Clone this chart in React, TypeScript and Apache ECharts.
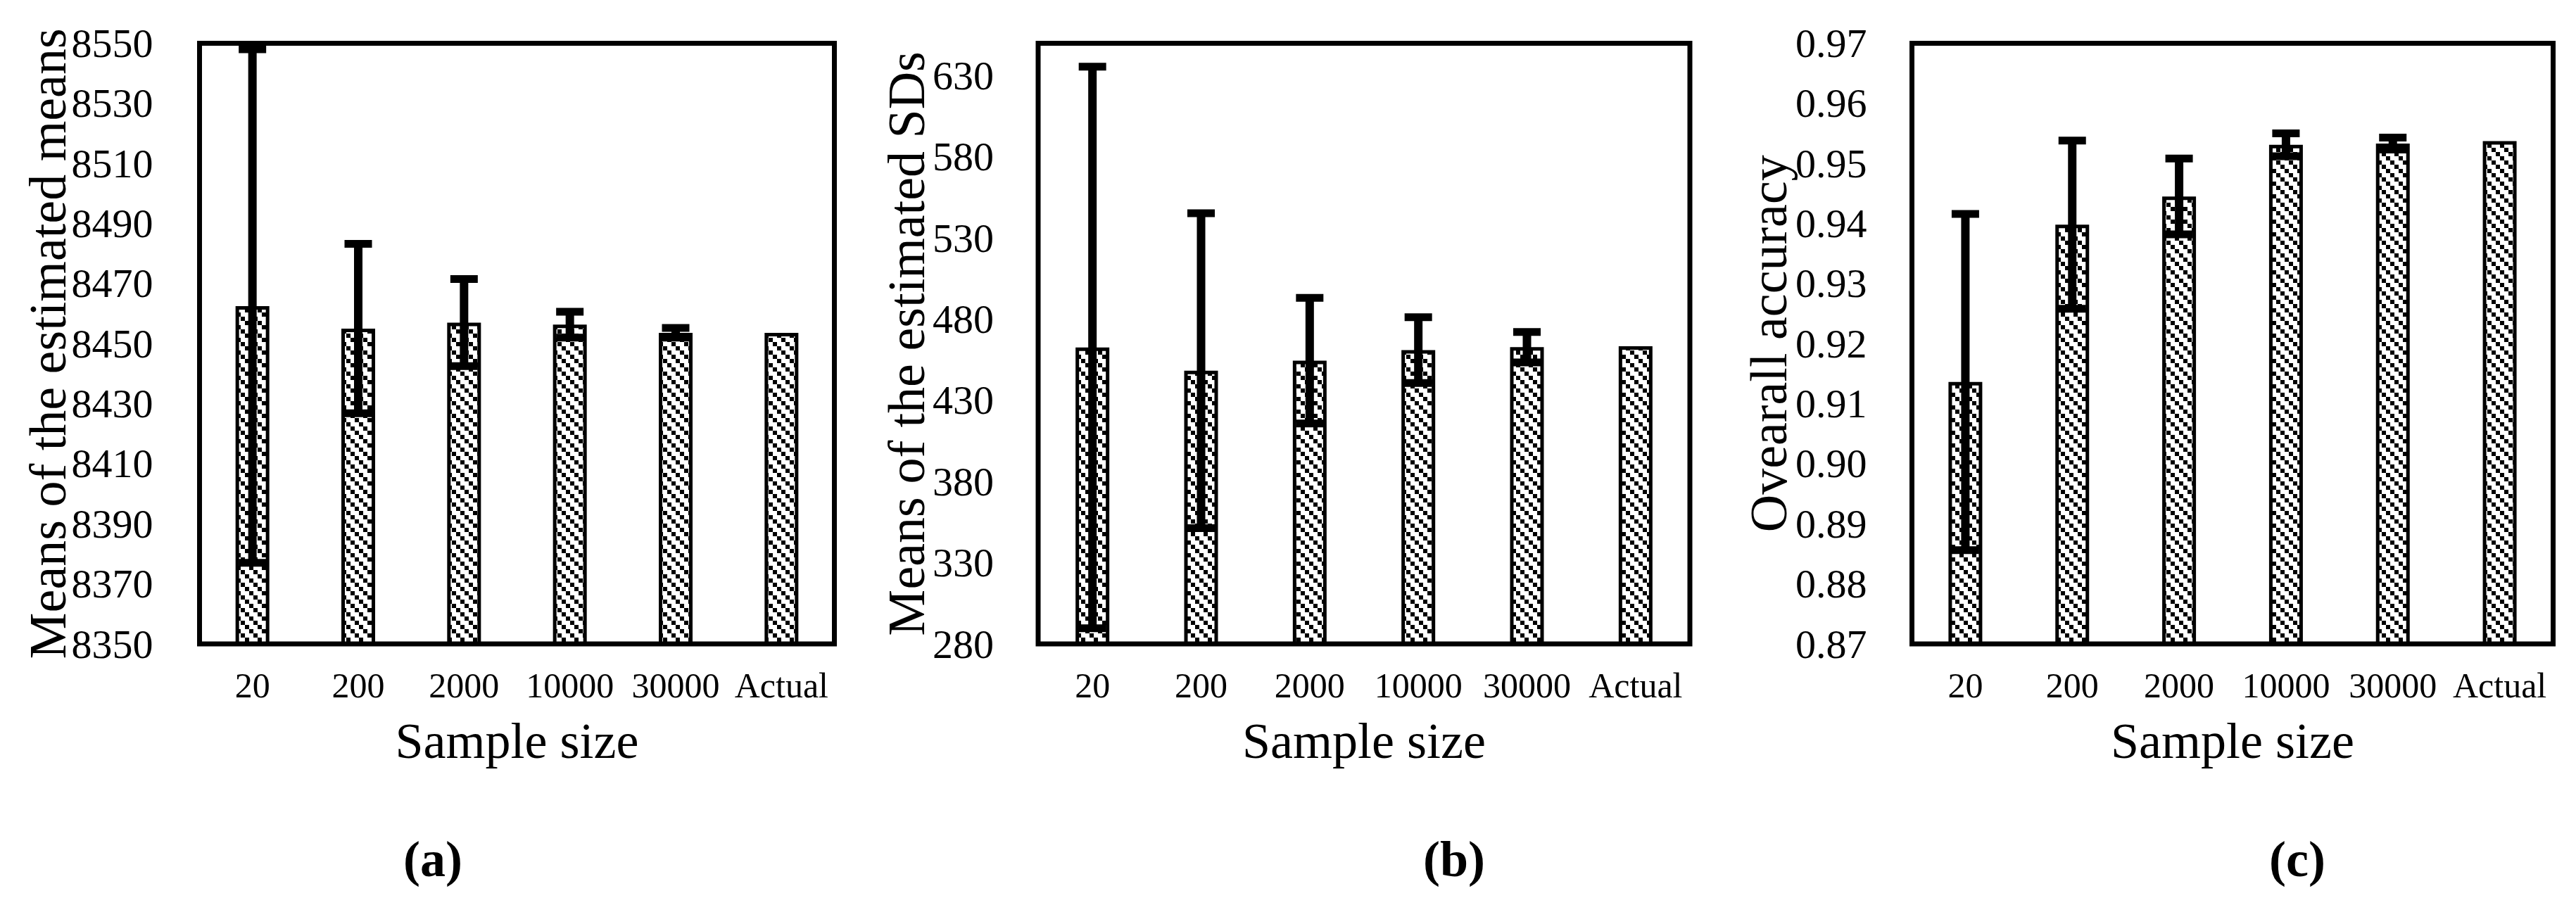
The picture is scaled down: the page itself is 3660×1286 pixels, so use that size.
import React, { useEffect, useRef } from "react";
import * as echarts from "echarts";

const categories = ["20", "200", "2000", "10000", "30000", "Actual"];

// Panel (a): means of the estimated means
const meansA = [8462.5, 8455, 8457, 8456.3, 8453.6, 8453.6];
const errA = [85.5, 28.2, 14.5, 4.3, 1.6, null];
const ticksA = [8350, 8370, 8390, 8410, 8430, 8450, 8470, 8490, 8510, 8530, 8550];

// Panel (b): means of the estimated SDs
const sdsB = [462.6, 448.3, 454.5, 461, 462.8, 463.4];
const errB = [173, 97, 38.7, 20.3, 9.4, null];
const ticksB = [280, 330, 380, 430, 480, 530, 580, 630];

// Panel (c): overall accuracy
const accC = [0.9136, 0.9398, 0.9445, 0.9531, 0.9533, 0.9537];
const errC = [0.028, 0.014, 0.0063, 0.0019, 0.001, null];
const ticksC = [0.87, 0.88, 0.89, 0.9, 0.91, 0.92, 0.93, 0.94, 0.95, 0.96, 0.97];

const FONT = '"Liberation Serif", "Times New Roman", serif';

function makePattern(): HTMLCanvasElement {
  const c = document.createElement("canvas");
  c.width = 18;
  c.height = 18;
  const ctx = c.getContext("2d")!;
  ctx.fillStyle = "#fff";
  ctx.fillRect(0, 0, 18, 18);
  ctx.fillStyle = "#000";
  for (let k = 0; k < 3; k++) ctx.fillRect(k * 6, k * 6, 6, 6);
  return c;
}

export default function App() {
  const ref = useRef<HTMLDivElement>(null);
  useEffect(() => {
    const chart = echarts.init(ref.current!, undefined, { renderer: "svg" });
    const pat = makePattern();
    const patternColor: any = {
      image: pat.toDataURL(),
      repeat: "repeat",
      imageWidth: 18,
      imageHeight: 18,
    };

    const panels = [
      { left: 283.5, width: 902, name: "Means of the estimated means", vals: meansA, errs: errA, ticks: ticksA, min: 8350, max: 8550, fmt: (v: number) => String(v), gap: 179, margin: 66 },
      { left: 1475, width: 926, name: "Means of the estimated SDs", vals: sdsB, errs: errB, ticks: ticksB, min: 280, max: 650, fmt: (v: number) => String(v), gap: 150, margin: 63 },
      { left: 2716.5, width: 911, name: "Ovearall accuracy", vals: accC, errs: errC, ticks: ticksC, min: 0.87, max: 0.97, fmt: (v: number) => v.toFixed(2), gap: 167, margin: 64 },
    ];

    const grid: any[] = [];
    const xAxis: any[] = [];
    const yAxis: any[] = [];
    const series: any[] = [];

    panels.forEach((p, i) => {
      grid.push({
        left: p.left,
        top: 61.5,
        width: p.width,
        height: 853.5,
        show: true,
        borderColor: "#000",
        borderWidth: 7,
        backgroundColor: "transparent",
        z: 5,
      });
      xAxis.push({
        type: "category",
        gridIndex: i,
        data: categories,
        boundaryGap: true,
        axisLine: { show: false },
        axisTick: { show: false },
        axisLabel: { interval: 0, margin: 34, fontSize: 50, fontFamily: FONT, color: "#000" },
        name: "Sample size",
        nameLocation: "middle",
        nameGap: 102,
        nameMoveOverlap: false,
        nameTextStyle: { fontSize: 72, fontFamily: FONT, color: "#000" },
      });
      yAxis.push({
        type: "value",
        gridIndex: i,
        min: p.min,
        max: p.max,
        axisLine: { show: false },
        axisTick: { show: false },
        splitLine: { show: false },
        axisLabel: {
          customValues: p.ticks,
          formatter: p.fmt,
          margin: p.margin,
          fontSize: 58,
          fontFamily: FONT,
          color: "#000",
        },
        name: p.name,
        nameLocation: "middle",
        nameGap: p.gap,
        nameMoveOverlap: false,
        nameTextStyle: { fontSize: 74, fontFamily: FONT, color: "#000" },
      });
      series.push({
        type: "bar",
        xAxisIndex: i,
        yAxisIndex: i,
        data: p.vals,
        barWidth: 48,
        clip: true,
        itemStyle: { color: patternColor, borderColor: "#000", borderWidth: 5 },
        silent: true,
      });
      const errData = p.vals
        .map((v, k) => (p.errs[k] == null ? null : [k, v - (p.errs[k] as number), v + (p.errs[k] as number)]))
        .filter((d) => d !== null);
      series.push({
        type: "custom",
        xAxisIndex: i,
        yAxisIndex: i,
        data: errData,
        encode: { x: 0, y: [1, 2] },
        z: 4,
        silent: true,
        renderItem: (params: any, api: any) => {
          const idx = api.value(0);
          const lo = api.coord([idx, api.value(1)]);
          const hi = api.coord([idx, api.value(2)]);
          const cx = hi[0];
          const stemW = 12;
          const capW = 39;
          const capH = 11;
          return {
            type: "group",
            children: [
              { type: "rect", shape: { x: cx - stemW / 2, y: hi[1], width: stemW, height: lo[1] - hi[1] }, style: { fill: "#000" } },
              { type: "rect", shape: { x: cx - capW / 2, y: hi[1] - capH / 2, width: capW, height: capH }, style: { fill: "#000" } },
              { type: "rect", shape: { x: cx - capW / 2, y: lo[1] - capH / 2, width: capW, height: capH }, style: { fill: "#000" } },
            ],
          };
        },
      });
    });

    const labels = [
      { t: "(a)", x: 615 },
      { t: "(b)", x: 2066 },
      { t: "(c)", x: 3264 },
    ];

    chart.setOption({
      animation: false,
      backgroundColor: "#fff",
      grid,
      xAxis,
      yAxis,
      series,
      graphic: labels.map((l) => ({
        type: "text",
        x: l.x,
        y: 1221,
        style: {
          text: l.t,
          font: `bold 72px ${FONT}`,
          fill: "#000",
          textAlign: "center",
          textVerticalAlign: "middle",
        },
      })),
    });
    return () => chart.dispose();
  }, []);

  return (
    <div
      ref={ref}
      style={{ position: "absolute", left: 0, top: 0, width: 3660, height: 1286, background: "#fff" }}
    />
  );
}
